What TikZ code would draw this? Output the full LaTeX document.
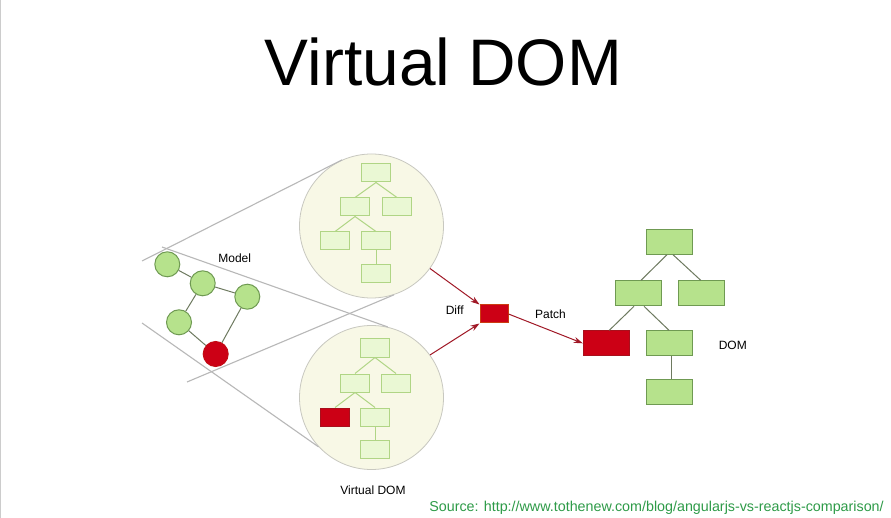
\documentclass[tikz,border=0pt]{standalone}
\usepackage{fontspec}
\setmainfont{Liberation Sans}
\usetikzlibrary{arrows.meta}
\definecolor{circfill}{HTML}{F8F8E6}
\definecolor{circdraw}{HTML}{C8C8C0}
\definecolor{lbfill}{HTML}{EAF8D4}
\definecolor{lbdraw}{HTML}{B0D585}
\definecolor{gfill}{HTML}{B6E28C}
\definecolor{gdraw}{HTML}{6F9A52}
\definecolor{redfill}{HTML}{CC0015}
\definecolor{reddraw}{HTML}{A8101C}
\definecolor{edgegray}{HTML}{6E7A60}
\definecolor{arrowred}{HTML}{A01826}
\definecolor{conegray}{HTML}{B8B8B8}
\definecolor{srcgreen}{HTML}{2E9B48}
\tikzset{
  bigcirc/.style={circle,draw=circdraw,fill=circfill,line width=0.8pt,minimum size=144pt,inner sep=0pt},
  lbox/.style={rectangle,draw=lbdraw,fill=lbfill,line width=1pt,minimum width=29pt,minimum height=18pt,inner sep=0pt},
  lred/.style={lbox,draw=reddraw,fill=redfill},
  dbox/.style={rectangle,draw=gdraw,fill=gfill,line width=1pt,minimum width=46pt,minimum height=25pt,inner sep=0pt},
  dred/.style={dbox,draw=reddraw,fill=redfill},
  mnode/.style={circle,draw=gdraw,fill=gfill,line width=1pt,minimum size=25pt,inner sep=0pt},
  mred/.style={mnode,draw=reddraw!70!red,fill=redfill},
  ledge/.style={draw=lbdraw,line width=1pt},
  dedge/.style={draw=edgegray,line width=1pt},
  cone/.style={draw=conegray,line width=1.1pt},
  arr/.style={draw=arrowred,line width=1pt,-{Stealth[length=9pt,width=6pt]}},
  lbl/.style={anchor=base,inner sep=0pt,font=\fontsize{12}{14}\selectfont},
}
\begin{document}
\begin{tikzpicture}[x=1pt,y=-1pt]
\useasboundingbox (0,0) rectangle (891,518);
\fill[white] (0,0) rectangle (891,518);
\draw[draw=black!20,line width=0.8pt] (0.5,0) -- (0.5,518);

% title
\node[anchor=base,inner sep=0pt,font=\fontsize{65.8}{70}\selectfont] (title) at (443.5,86) {Virtual DOM};

% circles
\node[bigcirc] (topc) at (371.5,226) {};
\node[bigcirc] (botc) at (371.5,397.5) {};

% cone lines
\coordinate (c1) at (142,261);
\coordinate (c2) at (162,247);
\coordinate (c3) at (142,323);
\coordinate (c4) at (187,382);
\draw[cone] (c1) -- (topc.114.9);
\draw[cone] (c4) -- (topc.-72.5);
\draw[cone] (c2) -- (botc.77.9);
\draw[cone] (c3) -- (botc.223.7);

% top circle tree
\node[lbox] (a1) at (376,173) {};
\node[lbox] (a2) at (355,207) {};
\node[lbox] (a3) at (397,207) {};
\node[lbox] (a4) at (335,241) {};
\node[lbox] (a5) at (376,241) {};
\node[lbox] (a6) at (376,274) {};
\draw[ledge] (a1.south) -- (a2.north);
\draw[ledge] (a1.south) -- (a3.north);
\draw[ledge] (a2.south) -- (a4.north);
\draw[ledge] (a2.south) -- (a5.north);
\draw[ledge] (a5.south) -- (a6.north);

% bottom circle tree
\node[lbox] (b1) at (375,348) {};
\node[lbox] (b2) at (355,383) {};
\node[lbox] (b3) at (396,383) {};
\node[lred] (b4) at (335,417) {};
\node[lbox] (b5) at (375,417) {};
\node[lbox] (b6) at (375,449) {};
\draw[ledge] (b1.south) -- (b2.north);
\draw[ledge] (b1.south) -- (b3.north);
\draw[ledge] (b2.south) -- (b4.north);
\draw[ledge] (b2.south) -- (b5.north);
\draw[ledge] (b5.south) -- (b6.north);

% model graph
\node[mnode] (n1) at (167.3,264.3) {};
\node[mnode] (n2) at (202.7,283.3) {};
\node[mnode] (n3) at (247.3,296.7) {};
\node[mnode] (n4) at (179,322.3) {};
\node[mred] (n5) at (215.7,354) {};
\draw[dedge] (n1) -- (n2);
\draw[dedge] (n2) -- (n3);
\draw[dedge] (n2) -- (n4);
\draw[dedge] (n4) -- (n5);
\draw[dedge] (n3) -- (n5);
\node[lbl] (model) at (234.7,262.3) {Model};

% diff
\node[rectangle,draw=reddraw!60!orange,fill=redfill,line width=1pt,minimum width=28pt,minimum height=18pt,inner sep=0pt] (diff) at (494,314) {};
\draw[arr] (topc.-36) -- (diff.north west);
\draw[arr] (botc.36) -- (diff.south west);
\node[lbl] (difflbl) at (454.7,315) {Diff};

% DOM tree
\node[dbox] (d1) at (669,241.7) {};
\node[dbox] (d2) at (638,293.3) {};
\node[dbox] (d3) at (701.7,293.3) {};
\node[dred] (d4) at (606.3,343.3) {};
\node[dbox] (d5) at (669,343.3) {};
\node[dbox] (d6) at (669,391.7) {};
\draw[dedge] ([xshift=-2pt]d1.south) -- ([xshift=3pt]d2.north);
\draw[dedge] ([xshift=4pt]d1.south) -- ([xshift=-1pt]d3.north);
\draw[dedge] ([xshift=-4pt]d2.south) -- ([xshift=3pt]d4.north);
\draw[dedge] ([xshift=6pt]d2.south) -- ([xshift=0pt]d5.north);
\draw[dedge] ([xshift=2pt]d5.south) -- ([xshift=2pt]d6.north);

\draw[arr] (diff.east) -- (d4.west);
\node[lbl] (patchlbl) at (550.5,318.3) {Patch};
\node[lbl] (domlbl) at (732.8,349.3) {DOM};
\node[lbl] (vdomlbl) at (373,494) {Virtual DOM};

% source
\node[anchor=base,inner sep=0pt,text=srcgreen,font=\fontsize{14.3}{16}\selectfont] (src) at (656.5,511) {Source: http://www.tothenew.com/blog/angularjs-vs-reactjs-comparison/};
\end{tikzpicture}
\end{document}
